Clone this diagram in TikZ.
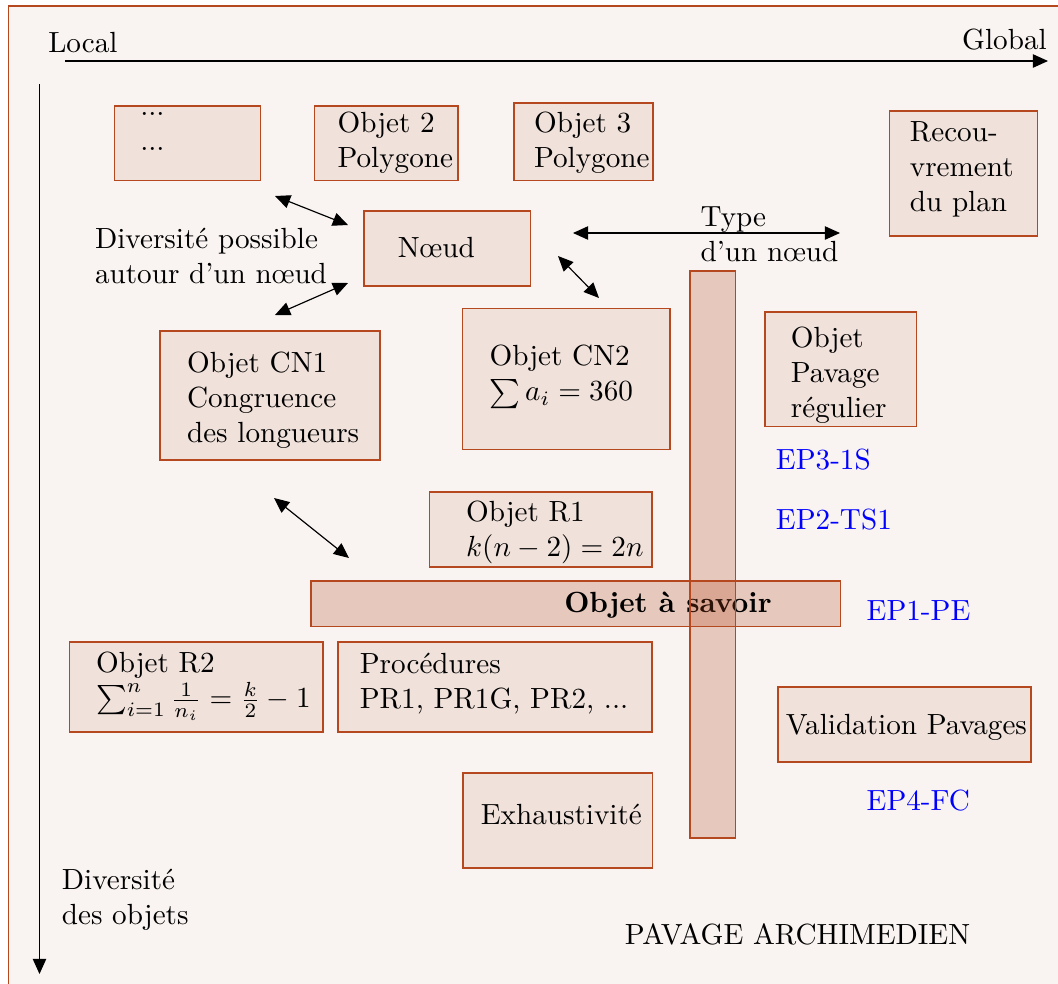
\documentclass[tikz,border=0pt]{standalone}
\usetikzlibrary{arrows.meta}
\definecolor{brd}{RGB}{181,72,30}
\definecolor{boxfill}{RGB}{240,225,218}
\definecolor{bgfill}{RGB}{249,244,242}
\tikzset{every picture/.style={line width=0.4pt}}
\tikzset{
  box/.style={draw=brd, fill=boxfill, line width=0.5pt},
  bar/.style={draw=brd, fill=brd, fill opacity=0.25, line width=0.5pt},
  txt/.style={anchor=north west, inner sep=0.75pt, align=left},
  ep/.style={txt, text=blue}
}
\begin{document}
\begin{tikzpicture}[x=0.3429pt,y=0.3429pt,yscale=-1,xscale=1,>={Triangle[length=5.2pt,width=4.6pt]}]
\useasboundingbox (0,0) rectangle (1058,984);

%Shape: Frame
\draw [draw=brd, fill=bgfill] (8.5,6) rectangle (1075,1000);

%Shape: Axes
\coordinate (loc) at (65,61);
\coordinate (glob) at (1048,61);
\draw [->] (loc) -- (glob);
\coordinate (dtop) at (39.5,84);
\coordinate (dbot) at (39.5,974);
\draw [->] (dtop) -- (dbot);

%Shape: Rectangle
\draw [box] (114.5,106) rectangle (260.5,180.5);
\draw [box] (314.5,106) rectangle (458,180.5);
\draw [box] (514,103) rectangle (653,180.5);
\draw [box] (889.5,111) rectangle (1037.5,236);
\draw [box] (364,211) rectangle (530.5,286);
\draw [box] (160,331) rectangle (380,460);
\draw [box] (462.5,308.5) rectangle (670,449.5);
\draw [box] (765,312) rectangle (916.5,426.5);
\draw [box] (429.5,492) rectangle (652,567);
\draw [box] (69.5,642) rectangle (323,732);
\draw [box] (338,642) rectangle (652,732);
\draw [box] (778,687) rectangle (1031,762);
\draw [box] (463,773) rectangle (652.5,868);

%Double Arrows
\coordinate (d1a) at (275,196);
\coordinate (d1b) at (348,225);
\draw [<->] (d1a) -- (d1b);
\coordinate (d2a) at (275,315);
\coordinate (d2b) at (348,283);
\draw [<->] (d2a) -- (d2b);
\coordinate (d3a) at (558,256);
\coordinate (d3b) at (599,298);
\draw [<->] (d3a) -- (d3b);
\coordinate (d4a) at (274,498);
\coordinate (d4b) at (349,558);
\draw [<->] (d4a) -- (d4b);
\coordinate (tya) at (573,233);
\coordinate (tyb) at (840,233);
\draw [<->] (tya) -- (tyb);

%Shape: Bar
\draw [bar] (311,581) rectangle (840.5,626.5);
% Text Node
\node [txt] (savoir) at (561.5,589.2) {\textbf{Objet à savoir}};
\draw [bar] (690,271) rectangle (735.5,838);

% Text Node
\node [txt] (local) at (45.5,29.6) {Local};
% Text Node
\node [txt, anchor=north east] (global) at (1049.5,25.9) {Global};
% Text Node
\node [txt] (dots) at (137.5,110) {...\\...};
% Text Node
\node [txt] (obj2) at (334.8,109.6) {Objet 2\\Polygone};
% Text Node
\node [txt] (obj3) at (531.3,109.6) {Objet 3\\Polygone};
% Text Node
\node [txt] (recou) at (907.1,119.3) {Recou-\\vrement\\du plan};
% Text Node
\node [txt] (noeud) at (395.1,234.6) {Nœud};
% Text Node
\node [txt] (divposs) at (92.3,225.6) {Diversité possible\\autour d'un nœud};
% Text Node
\node [txt] (type) at (697.8,204.3) {Type\\d'un nœud};
% Text Node
\node [txt] (cn1) at (184.3,349.6) {Objet CN1\\Congruence\\des longueurs};
% Text Node
\node [txt] (cn2) at (486.8,342.6) {Objet CN2\\$\sum a_i=360$};
% Text Node
\node [txt] (pav) at (788.1,324.3) {Objet\\Pavage\\régulier};
% Text Node
\node [txt] (r1) at (463.3,498.3) {Objet R1\\$k(n-2)=2n$};
% Text Node
\node [txt] (r2) at (93.3,649.3) {Objet R2\\$\sum_{i=1}^{n}\frac{1}{n_i}=\frac{k}{2}-1$};
% Text Node
\node [txt] (proc) at (357.1,650.6) {Procédures\\PR1, PR1G, PR2, ...};
% Text Node
\node [txt] (valid) at (783,711.6) {Validation Pavages};
% Text Node
\node [txt] (exh) at (478.1,801.6) {Exhaustivité};
% Text Node
\node [txt] (divobj) at (59.1,865.9) {Diversité\\des objets};
% Text Node
\node [txt] (pavarch) at (622.1,921.1) {PAVAGE ARCHIMEDIEN};
% Text Node
\node [ep] (ep3) at (773.2,446.1) {EP3-1S};
% Text Node
\node [ep] (ep2) at (773.2,506.1) {EP2-TS1};
% Text Node
\node [ep] (ep1) at (863.9,597.8) {EP1-PE};
% Text Node
\node [ep] (ep4) at (863.9,787.6) {EP4-FC};

\end{tikzpicture}
\end{document}
